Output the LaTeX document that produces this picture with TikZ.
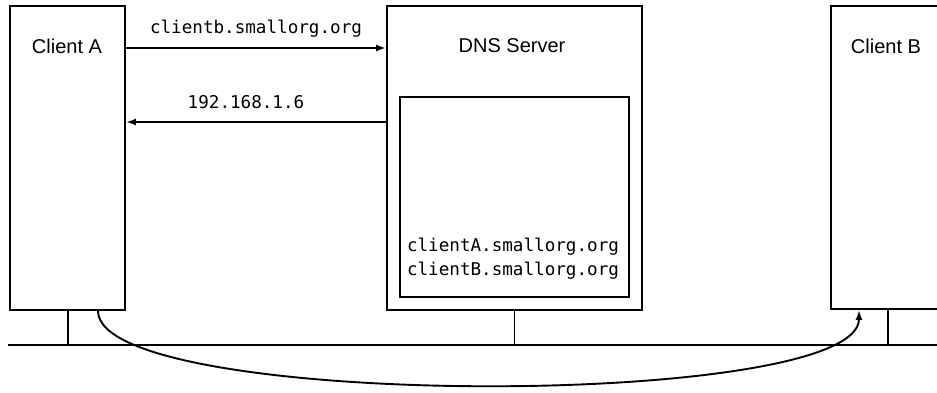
\documentclass[tikz,border=0pt]{standalone}
\usepackage{fontspec}
\setmainfont{Liberation Sans}
\setmonofont{DejaVu Sans Mono}
\usetikzlibrary{calc,positioning,arrows.meta}

\begin{document}
\begin{tikzpicture}[x=1pt,y=-1pt,line width=1.9pt,
        box/.style={draw,minimum width=#1,inner sep=0pt},
        lbl/.style={font=\fontsize{20}{24}\selectfont},
        addr/.style={font=\fontsize{17.6}{24}\ttfamily,inner sep=0pt}]
        \useasboundingbox (0,0) rectangle (937,392);
        \clip (0,0) rectangle (937,392);
        \node[box=115pt,minimum height=304pt] (clientA) at (67.5,158) {};
        \node[box=255pt,minimum height=304pt] (dns) at (514.5,158) {};
        \node[box=229pt,minimum height=200pt] (zone) at (514.5,197) {};
        \node[box=119pt,minimum height=303pt] (clientB) at (890.5,157.5) {};
        \node[lbl] (lblA) at (67,46) {Client A};
        \node[lbl] (lblDNS) at (512,46) {DNS Server};
        \node[lbl] (lblB) at (886,46) {Client B};
        \node[addr,align=center] (records) at (513,259) {clientA.smallorg.org\\clientB.smallorg.org};
        \coordinate (netL) at (8,345);
        \coordinate (netR) at (937,345);
        \draw (netL) -- (netR);
        \draw (clientA.south -| 68,0) -- (68,345);
        \draw (dns.south) -- (dns.south |- netL);
        \draw (clientB.south -| 888,0) -- (888,345);
        \draw[-{Latex[length=10pt,width=7pt]}] (clientA.east |- 0,48) -- node[addr,above=10pt] (query) {clientb.smallorg.org} (dns.west |- 0,48);
        \draw[-{Latex[length=10pt,width=7pt]}] (dns.west |- 0,122) -- node[addr,above=12pt,xshift=-10pt] (answer) {192.168.1.6} (clientA.east |- 0,122);
        \coordinate (fromA) at (clientA.south -| 98,0);
        \coordinate (toB) at (clientB.south -| 859,0);
        \draw[-{Latex[length=10pt,width=7pt]}] (fromA) .. controls (98,410) and (859,410) .. (toB);
\end{tikzpicture}
\end{document}
